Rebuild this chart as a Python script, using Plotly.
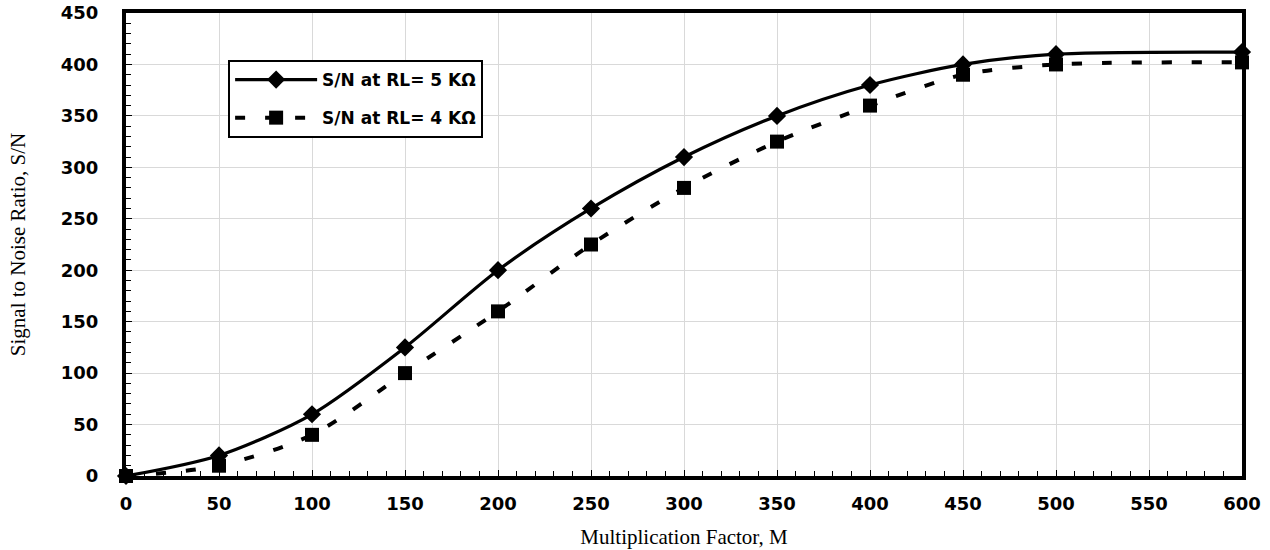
import plotly.graph_objects as go

# Multiplication factor M
m_values = [0, 50, 100, 150, 200, 250, 300, 350, 400, 450, 500, 600]
# S/N for load resistance RL = 5 kOhm
sn_rl5 = [0, 20, 60, 125, 200, 260, 310, 350, 380, 400, 410, 412]
# S/N for load resistance RL = 4 kOhm
sn_rl4 = [0, 10, 40, 100, 160, 225, 280, 325, 360, 390, 400, 402]

series_names = ["S/N at RL= 5 KΩ", "S/N at RL= 4 KΩ"]

x_ticks = list(range(0, 601, 50))
y_ticks = list(range(0, 451, 50))

fig = go.Figure()

fig.add_trace(go.Scatter(
    x=m_values, y=sn_rl5, name=series_names[0], legendgroup="a",
    mode="lines+markers",
    line=dict(color="black", width=3.2, shape="spline", smoothing=0.8),
    marker=dict(symbol="diamond", size=14, color="black"),
    cliponaxis=False,
))
fig.add_trace(go.Scatter(
    x=m_values, y=sn_rl4, name=series_names[1], legendgroup="b",
    mode="lines+markers",
    line=dict(color="black", width=4, dash="10px,20px", shape="spline", smoothing=0.8),
    marker=dict(symbol="square", size=14, color="black"),
    cliponaxis=False,
))

tick_font = dict(family="DejaVu Sans", size=18, color="black", weight="bold")
title_font = dict(family="Liberation Serif, Times New Roman", size=21, color="black")

fig.update_layout(
    width=1270, height=550,
    margin=dict(l=126, r=28, t=13, b=74),
    paper_bgcolor="white", plot_bgcolor="white",
    showlegend=True,
    legend=dict(
        x=0.0915, y=0.8985, xanchor="left", yanchor="top",
        bgcolor="white", bordercolor="black", borderwidth=2,
        font=dict(family="DejaVu Sans", size=17, color="black", weight="bold"),
        itemwidth=82, tracegroupgap=13,
    ),
)

fig.update_xaxes(
    range=[0, 600], tickvals=x_ticks, ticktext=[str(v) for v in x_ticks],
    automargin=False,
    showgrid=True, gridcolor="#d9d9d9", gridwidth=1,
    showline=True, linecolor="black", linewidth=4, mirror=True,
    ticks="inside", ticklen=6, tickcolor="black", tickwidth=1,
    minor=dict(ticks="inside", dtick=10, ticklen=5, tickcolor="black", showgrid=False),
    tickfont=tick_font, ticklabelstandoff=8,
    title=dict(text="Multiplication Factor, M", font=title_font, standoff=18),
    zeroline=False,
)
fig.update_yaxes(
    range=[0, 450], tickvals=y_ticks, ticktext=[str(v) for v in y_ticks],
    automargin=False,
    showgrid=True, gridcolor="#d9d9d9", gridwidth=1,
    showline=True, linecolor="black", linewidth=4, mirror=True,
    ticks="inside", ticklen=6, tickcolor="black", tickwidth=1,
    minor=dict(ticks="inside", dtick=10, ticklen=5, tickcolor="black", showgrid=False),
    tickfont=tick_font, ticklabelstandoff=20,
    title=dict(text="Signal to Noise Ratio, S/N", font=title_font, standoff=30),
    zeroline=False,
)

fig.write_html("out.html")
